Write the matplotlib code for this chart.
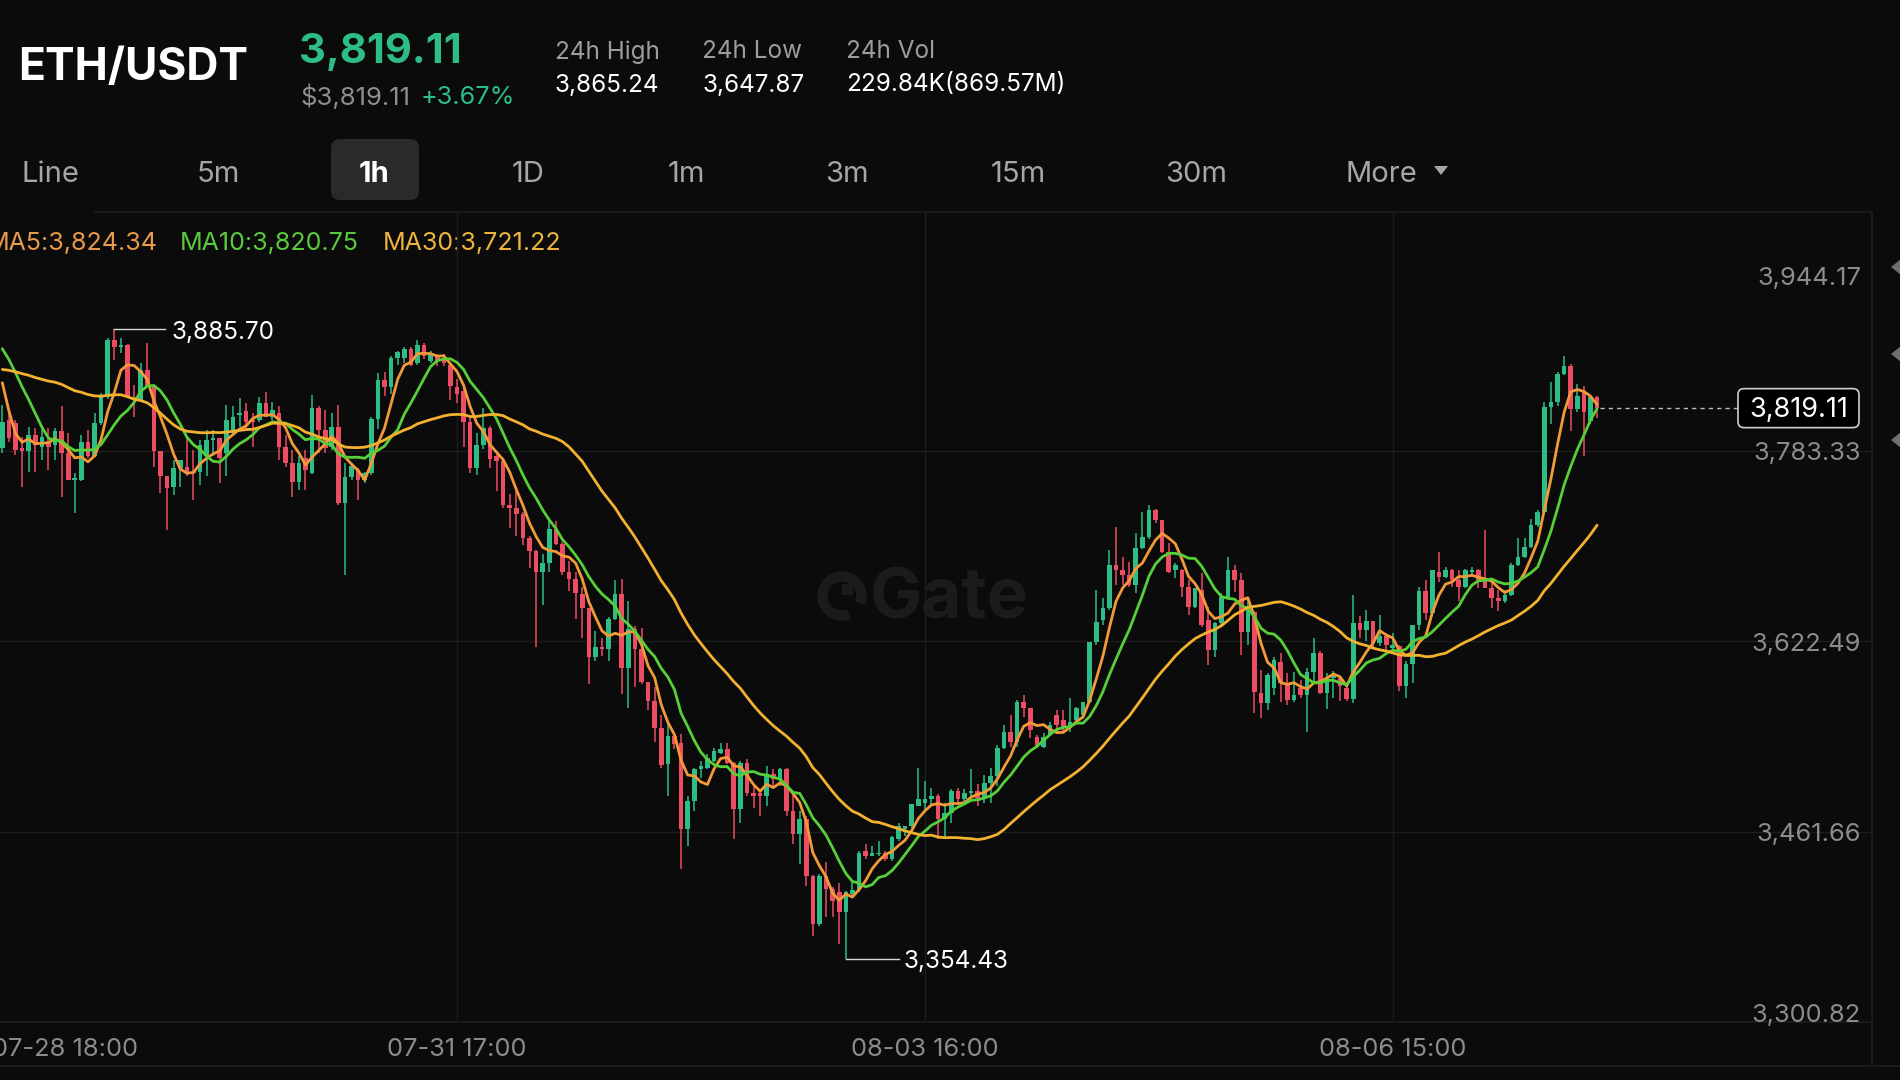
import matplotlib
matplotlib.use("Agg")
import matplotlib.pyplot as plt
import matplotlib.transforms as mtransforms
from matplotlib.patches import FancyBboxPatch, Polygon, Wedge, Rectangle
import numpy as np
import pandas as pd

plt.rcParams['font.family'] = ['Inter', 'DejaVu Sans']

# ---------------- data (hourly ETH/USDT candles) ----------------
opens = [
    3785.3, 3809.2, 3806.4, 3785.3, 3782.5, 3796.6, 3786.7, 3789.5, 3788.1, 3799.4,
    3781.1, 3758.6, 3758.6, 3790.9, 3778.3, 3806.4, 3828.9, 3876.8, 3871.1, 3872.5,
    3828.9, 3826.1, 3851.4, 3837.4, 3782.5, 3761.4, 3752.9, 3768.4, 3769.8, 3765.6,
    3765.6, 3778.3, 3792.3, 3793.7, 3781.1, 3798.0, 3813.4, 3816.3, 3809.2, 3809.2,
    3823.3, 3812.0, 3814.8, 3786.7, 3772.6, 3757.1, 3776.9, 3764.2, 3819.1, 3800.8,
    3786.7, 3803.6, 3738.9, 3761.1, 3767.0, 3758.2, 3764.1, 3810.0, 3842.6, 3836.6,
    3861.8, 3861.8, 3869.2, 3857.4, 3872.2, 3858.9, 3863.3, 3861.8, 3855.9, 3836.6,
    3833.7, 3807.0, 3768.5, 3787.8, 3802.6, 3778.9, 3774.4, 3737.4, 3734.5, 3730.0,
    3709.3, 3698.9, 3681.1, 3688.5, 3716.7, 3704.8, 3681.1, 3675.2, 3661.9, 3650.0,
    3608.6, 3617.5, 3616.0, 3641.2, 3661.9, 3599.7, 3632.3, 3616.0, 3587.8, 3571.5,
    3549.3, 3518.5, 3542.4, 3536.7, 3463.6, 3487.5, 3514.2, 3515.6, 3521.3, 3528.3,
    3531.1, 3519.9, 3480.5, 3519.9, 3494.5, 3494.5, 3491.7, 3510.0, 3505.8, 3514.2,
    3479.1, 3459.4, 3472.1, 3424.3, 3383.5, 3424.3, 3413.0, 3410.2, 3393.3, 3408.8,
    3412.0, 3445.3, 3441.1, 3442.5, 3443.9, 3438.3, 3455.2, 3463.6, 3466.4, 3483.3,
    3486.1, 3488.9, 3491.7, 3472.1, 3477.7, 3496.0, 3488.9, 3494.5, 3496.0, 3490.3,
    3503.0, 3508.6, 3531.9, 3546.0, 3537.5, 3571.3, 3565.7, 3541.7, 3533.3, 3543.1,
    3560.0, 3555.8, 3548.8, 3555.8, 3560.0, 3571.3, 3621.9, 3640.2, 3650.1, 3686.6,
    3682.4, 3678.2, 3669.8, 3700.7, 3710.6, 3733.1, 3724.6, 3697.9, 3682.4, 3682.4,
    3668.4, 3651.5, 3665.5, 3640.0, 3614.9, 3637.4, 3659.9, 3682.4, 3674.0, 3630.4,
    3647.3, 3578.3, 3569.9, 3582.5, 3605.0, 3586.8, 3572.7, 3582.5, 3576.9, 3596.6,
    3612.1, 3579.0, 3591.5, 3591.5, 3583.1, 3573.3, 3637.7, 3632.1, 3639.1, 3620.9,
    3626.5, 3616.7, 3618.1, 3584.5, 3602.7, 3636.3, 3664.3, 3646.1, 3681.1, 3676.9,
    3682.5, 3674.1, 3668.5, 3681.1, 3682.5, 3674.1, 3667.1, 3658.7, 3655.9, 3661.5,
    3686.7, 3693.7, 3702.1, 3720.3, 3731.5, 3819.7, 3823.9, 3847.7, 3854.8, 3818.3,
    3833.3, 3808.5, 3828.1,
]
highs = [
    3821.9, 3817.7, 3809.2, 3795.1, 3803.6, 3802.2, 3802.2, 3802.2, 3802.2, 3820.5,
    3798.0, 3764.2, 3796.6, 3800.8, 3814.8, 3831.7, 3878.2, 3885.7, 3878.2, 3873.0,
    3838.8, 3857.0, 3873.9, 3838.8, 3783.0, 3762.0, 3775.5, 3775.5, 3795.1, 3783.9,
    3792.3, 3800.8, 3800.8, 3794.0, 3821.9, 3820.5, 3827.5, 3823.3, 3814.8, 3828.9,
    3833.1, 3824.7, 3820.5, 3796.6, 3783.9, 3778.3, 3783.9, 3830.3, 3820.5, 3817.7,
    3814.8, 3821.9, 3773.0, 3773.0, 3768.5, 3765.6, 3811.5, 3848.5, 3850.0, 3863.3,
    3867.7, 3870.7, 3870.7, 3876.6, 3873.7, 3867.7, 3864.8, 3864.8, 3857.4, 3844.1,
    3838.1, 3811.5, 3798.1, 3818.9, 3804.1, 3783.3, 3775.9, 3746.3, 3749.3, 3731.5,
    3710.8, 3699.5, 3695.9, 3724.1, 3724.1, 3706.3, 3690.0, 3681.1, 3667.8, 3650.0,
    3630.8, 3624.9, 3642.7, 3673.7, 3675.2, 3656.0, 3635.2, 3633.7, 3588.0, 3583.4,
    3559.7, 3555.0, 3545.2, 3543.8, 3491.7, 3515.6, 3521.3, 3526.9, 3532.5, 3536.7,
    3536.7, 3520.0, 3521.3, 3522.7, 3502.0, 3497.4, 3517.1, 3514.2, 3515.6, 3515.6,
    3493.1, 3479.1, 3474.9, 3425.0, 3425.7, 3435.5, 3414.4, 3418.6, 3411.6, 3420.0,
    3445.3, 3451.0, 3449.6, 3453.8, 3445.3, 3458.0, 3469.2, 3466.4, 3485.0, 3515.6,
    3504.4, 3498.8, 3493.1, 3486.1, 3497.4, 3498.8, 3497.4, 3514.2, 3502.0, 3509.0,
    3515.6, 3535.0, 3551.6, 3560.0, 3572.7, 3576.9, 3565.7, 3543.1, 3545.0, 3554.4,
    3564.2, 3564.2, 3574.1, 3567.1, 3571.3, 3621.9, 3665.5, 3658.5, 3699.3, 3719.0,
    3693.7, 3689.5, 3713.4, 3731.7, 3737.3, 3734.0, 3725.0, 3704.9, 3688.0, 3683.0,
    3674.0, 3667.0, 3679.6, 3651.5, 3638.8, 3662.7, 3693.7, 3686.6, 3680.0, 3658.5,
    3648.0, 3598.0, 3595.2, 3609.3, 3612.1, 3595.2, 3596.6, 3589.6, 3599.4, 3624.7,
    3614.0, 3595.7, 3597.1, 3592.9, 3584.5, 3661.5, 3643.3, 3648.9, 3639.5, 3644.7,
    3629.3, 3629.3, 3619.5, 3605.5, 3636.3, 3668.5, 3674.1, 3682.5, 3697.9, 3685.3,
    3683.0, 3682.5, 3683.0, 3685.3, 3683.0, 3716.1, 3674.1, 3665.7, 3665.7, 3688.1,
    3709.1, 3709.1, 3725.9, 3732.9, 3823.9, 3840.8, 3849.2, 3863.1, 3856.2, 3839.3,
    3838.0, 3829.6, 3829.0,
]
lows = [
    3781.1, 3790.9, 3779.7, 3752.9, 3765.6, 3765.6, 3775.5, 3767.0, 3775.5, 3744.5,
    3758.6, 3730.4, 3758.0, 3776.9, 3778.0, 3805.0, 3827.0, 3859.9, 3865.5, 3827.5,
    3812.0, 3825.0, 3837.0, 3769.8, 3747.3, 3716.3, 3745.9, 3752.9, 3761.4, 3741.7,
    3754.3, 3761.4, 3778.3, 3755.7, 3761.4, 3797.0, 3803.6, 3800.8, 3786.7, 3807.8,
    3811.5, 3809.2, 3775.5, 3769.8, 3744.5, 3750.1, 3750.1, 3763.5, 3781.1, 3781.1,
    3783.9, 3737.4, 3678.2, 3758.2, 3741.9, 3756.0, 3763.0, 3801.1, 3829.2, 3830.7,
    3855.9, 3857.4, 3855.0, 3855.9, 3860.3, 3857.4, 3854.4, 3854.4, 3826.3, 3823.3,
    3786.3, 3764.1, 3762.6, 3784.8, 3768.5, 3749.3, 3734.5, 3718.2, 3710.8, 3703.3,
    3684.1, 3617.5, 3653.0, 3681.1, 3703.3, 3678.2, 3665.0, 3641.2, 3624.9, 3586.4,
    3605.6, 3610.1, 3605.6, 3640.0, 3577.5, 3565.6, 3583.4, 3586.4, 3564.1, 3537.5,
    3515.2, 3491.7, 3531.1, 3429.9, 3449.6, 3479.1, 3507.2, 3514.2, 3520.0, 3527.0,
    3518.5, 3455.2, 3469.2, 3491.7, 3481.9, 3474.9, 3483.3, 3497.4, 3500.2, 3474.9,
    3451.0, 3434.1, 3415.8, 3373.6, 3382.1, 3389.1, 3389.1, 3366.6, 3354.43, 3406.0,
    3410.2, 3438.3, 3441.1, 3441.1, 3436.9, 3436.9, 3453.8, 3458.0, 3465.0, 3483.3,
    3480.5, 3483.3, 3455.2, 3455.2, 3469.2, 3486.1, 3486.1, 3491.7, 3483.3, 3486.1,
    3486.1, 3500.0, 3531.0, 3533.3, 3533.3, 3558.6, 3540.3, 3531.9, 3531.9, 3543.1,
    3546.0, 3546.0, 3546.0, 3553.0, 3557.2, 3569.9, 3619.1, 3636.0, 3648.7, 3669.8,
    3669.8, 3668.4, 3662.7, 3700.0, 3709.0, 3721.8, 3696.5, 3679.6, 3675.4, 3660.0,
    3644.4, 3650.1, 3634.6, 3602.2, 3609.3, 3636.0, 3658.5, 3664.1, 3610.7, 3619.1,
    3561.4, 3557.2, 3564.2, 3576.9, 3571.3, 3568.5, 3571.3, 3574.1, 3546.0, 3586.8,
    3577.5, 3564.9, 3574.7, 3571.9, 3571.9, 3570.5, 3625.1, 3622.3, 3616.7, 3618.1,
    3615.3, 3615.3, 3580.3, 3574.7, 3587.3, 3632.1, 3640.5, 3644.7, 3672.7, 3675.5,
    3668.5, 3655.9, 3667.1, 3676.9, 3667.1, 3667.0, 3650.3, 3647.5, 3654.5, 3660.1,
    3686.0, 3692.3, 3700.7, 3718.9, 3730.1, 3805.7, 3821.1, 3847.0, 3800.1, 3815.5,
    3779.1, 3805.7, 3810.5,
]
closes = [
    3807.8, 3793.7, 3783.9, 3783.3, 3796.6, 3788.1, 3795.1, 3786.7, 3799.4, 3781.1,
    3758.6, 3759.8, 3790.9, 3778.3, 3806.4, 3828.9, 3876.8, 3871.1, 3872.5, 3828.9,
    3826.1, 3851.4, 3837.4, 3782.5, 3761.4, 3751.5, 3768.4, 3775.5, 3764.2, 3764.2,
    3788.1, 3792.3, 3793.7, 3776.9, 3809.2, 3812.0, 3814.8, 3807.8, 3807.8, 3823.3,
    3812.0, 3817.7, 3786.7, 3772.6, 3757.1, 3772.6, 3767.0, 3819.1, 3800.8, 3785.3,
    3803.6, 3738.8, 3761.1, 3770.0, 3758.2, 3764.1, 3810.0, 3842.6, 3836.6, 3861.8,
    3866.3, 3869.2, 3855.9, 3872.2, 3863.3, 3864.8, 3858.9, 3857.4, 3838.1, 3830.7,
    3807.0, 3768.5, 3787.8, 3802.6, 3775.9, 3774.4, 3737.4, 3734.5, 3730.0, 3709.3,
    3698.9, 3681.1, 3688.5, 3716.7, 3704.8, 3681.1, 3675.2, 3663.4, 3650.0, 3608.6,
    3617.5, 3616.0, 3641.2, 3661.9, 3599.7, 3632.3, 3616.0, 3587.8, 3571.5, 3549.3,
    3518.2, 3542.4, 3535.3, 3463.6, 3487.5, 3514.2, 3517.1, 3524.1, 3529.7, 3531.1,
    3519.9, 3480.5, 3519.9, 3494.5, 3491.7, 3491.7, 3510.0, 3505.8, 3514.2, 3479.1,
    3459.4, 3472.1, 3424.3, 3383.5, 3424.3, 3413.0, 3403.2, 3393.3, 3410.2, 3412.0,
    3443.9, 3441.1, 3443.9, 3443.9, 3438.3, 3456.6, 3466.4, 3466.4, 3484.7, 3488.9,
    3488.9, 3491.7, 3472.1, 3477.7, 3496.0, 3488.9, 3494.5, 3496.0, 3490.3, 3503.0,
    3508.6, 3531.9, 3546.0, 3537.5, 3571.3, 3565.7, 3547.4, 3533.3, 3541.7, 3551.6,
    3551.6, 3548.8, 3554.4, 3565.7, 3571.3, 3621.9, 3638.8, 3650.1, 3686.6, 3682.4,
    3678.2, 3669.8, 3700.7, 3710.6, 3733.1, 3724.6, 3697.9, 3681.0, 3686.6, 3668.4,
    3651.5, 3667.0, 3636.0, 3614.9, 3637.4, 3659.9, 3682.4, 3674.0, 3630.4, 3648.7,
    3579.7, 3569.9, 3593.8, 3606.4, 3586.8, 3572.7, 3576.9, 3576.9, 3596.6, 3612.1,
    3579.0, 3591.5, 3594.3, 3584.5, 3573.3, 3637.7, 3632.1, 3639.1, 3620.9, 3626.5,
    3619.5, 3619.5, 3584.5, 3602.7, 3636.3, 3664.3, 3646.1, 3682.5, 3676.9, 3682.5,
    3674.1, 3668.5, 3682.5, 3682.5, 3674.1, 3667.1, 3658.7, 3655.9, 3661.5, 3686.7,
    3693.7, 3702.1, 3720.3, 3731.5, 3819.7, 3823.9, 3847.7, 3854.8, 3818.3, 3829.6,
    3815.5, 3828.1, 3819.11,
]
prior_closes = [
    3815, 3822, 3830, 3838, 3845, 3840, 3832, 3828, 3835, 3842,
    3838, 3830, 3836, 3840, 3839, 3850, 3862, 3870, 3878, 3890,
    3885, 3895, 3902, 3905, 3903, 3912, 3880, 3820, 3783,
]

ma_periods = [5, 10, 30]
ma_labels = ['MA5:3,824.34', 'MA10:3,820.75', 'MA30:3,721.22']

price_ticks = [3944.17, 3783.33, 3622.49, 3461.66, 3300.82]
price_tick_labels = ['3,944.17', '3,783.33', '3,622.49', '3,461.66', '3,300.82']
time_tick_idx = [-2, 69, 140, 211]
time_tick_labels = ['07-28 18:00', '07-31 17:00', '08-03 16:00', '08-06 15:00']

symbol = 'ETH/USDT'
last_price = 3819.11
last_price_text = '3,819.11'
usd_price_text = '$3,819.11'
change_text = '+3.67%'
stat_names = ['24h High', '24h Low', '24h Vol']
stat_values = ['3,865.24', '3,647.87', '229.84K(869.57M)']
tabs = ['Line', '5m', '1h', '1D', '1m', '3m', '15m', '30m', 'More']
active_tab = '1h'

# ---------------- style ----------------
BG = '#0b0b0c'
UP = '#2ebd85'
DOWN = '#ec4d63'
GRID = '#1d1d1f'
MA_COLORS = ['#f29a38', '#56cf39', '#f2b12e']
MA_TEXT = ['#e99a4b', '#5bcb3e', '#edb53e']
GRAY = '#8c8c8c'

W, H = 1900, 1080
fig = plt.figure(figsize=(19, 10.8), dpi=100, facecolor=BG)

# pixel-space layer for the page furniture (behind the chart)
pax = fig.add_axes([0, 0, 1, 1], zorder=0)
pax.set_xlim(0, W)
pax.set_ylim(H, 0)
pax.axis('off')
pax.set_facecolor(BG)

# chart area in pixels
CL, CR, CT, CB = 0, 1872, 212, 1022
ax = fig.add_axes([CL / W, 1 - CB / H, (CR - CL) / W, (CB - CT) / H], zorder=1)
ax.patch.set_alpha(0)
ax.axis('off')

n = len(closes)
x = np.arange(n)
o = np.array(opens); c = np.array(closes); hi = np.array(highs); lo = np.array(lows)

step = 6.59
px_per_unit = 190.5 / (price_ticks[3] - price_ticks[4])
ax.set_xlim(-2.3 / step, (CR - 2.3) / step)
ax.set_ylim(price_ticks[-1], price_ticks[-1] + (CB - CT) / px_per_unit)

# grid
for p in price_ticks[1:4]:
    ax.axhline(p, color=GRID, lw=1.0, zorder=0)
for t in time_tick_idx[1:]:
    ax.axvline(t, color=GRID, lw=1.0, zorder=0)

# watermark (pixel layer)
wm_color = '#1b1b1c'
pax.add_patch(Wedge((842, 596), 24, 70, 380, width=9, color=wm_color, zorder=0))
pax.add_patch(Rectangle((842, 584), 10, 10, color=wm_color, zorder=0))
pax.text(870, 600, 'Gate', fontsize=50, weight='bold', color=wm_color,
         va='center', ha='left', zorder=0)

# candles
colors = np.where(c >= o, UP, DOWN)
ax.vlines(x, lo, hi, colors=colors, lw=1.1, zorder=2)
body_bottom = np.minimum(o, c)
body_h = np.maximum(np.abs(c - o), 0.9)
ax.bar(x, body_h, bottom=body_bottom, width=0.7, color=colors, lw=0, zorder=3)

# moving averages
allc = pd.Series(prior_closes + closes, dtype=float)
for p, col in zip(ma_periods, MA_COLORS):
    ma = allc.rolling(p).mean().values[len(prior_closes):]
    ax.plot(x, ma, color=col, lw=2.0, zorder=4, solid_capstyle='round')

# high / low markers
ih = int(np.argmax(hi)); il = int(np.argmin(lo))
ax.plot([ih, ih + 7.7], [hi[ih], hi[ih]], color='#d8d8d8', lw=1.0, zorder=5)
ax.annotate(f'{hi[ih]:,.2f}', xy=(ih + 8.6, hi[ih]), xytext=(0, -2.5), textcoords='offset points',
            color='white', fontsize=17.5, va='center', ha='left', zorder=5)
ax.plot([il, il + 8.0], [lo[il], lo[il]], color='#d8d8d8', lw=1.0, zorder=5)
ax.annotate(f'{lo[il]:,.2f}', xy=(il + 8.7, lo[il]), xytext=(0, -2.5), textcoords='offset points',
            color='white', fontsize=17.5, va='center', ha='left', zorder=5)

# last price dashed line
ax.hlines(last_price, n - 0.5, (1738 - 2.3) / step, colors='#bdbdbd', lw=1.0,
          linestyles=(0, (3, 3)), zorder=5)

# price axis labels
trans_r = mtransforms.blended_transform_factory(ax.transAxes, ax.transData)
offsets = {0: -15, 4: 10}
for k, (p, lab) in enumerate(zip(price_ticks, price_tick_labels)):
    ax.annotate(lab, xy=(1861 / CR, p), xycoords=trans_r,
                xytext=(0, (offsets.get(k, 0) - 3) * 0.72), textcoords='offset points',
                ha='right', va='center', color=GRAY, fontsize=18.3, zorder=6)

# time axis labels
trans_b = mtransforms.blended_transform_factory(ax.transData, ax.transAxes)
label_y = -(1049 - CB) / (CB - CT)
for k, (t, lab) in enumerate(zip(time_tick_idx, time_tick_labels)):
    if k == 0:
        ax.annotate(lab, xy=(0, label_y), xycoords='axes fraction', xytext=(-8 * 0.72, 0),
                    textcoords='offset points', ha='left', va='center', color=GRAY,
                    fontsize=18.3, annotation_clip=False)
    else:
        ax.text(t, label_y, lab, transform=trans_b, ha='center', va='center',
                color=GRAY, fontsize=18.3, clip_on=False)

# current-price box (pixel layer, y from the price scale)
fig.canvas.draw()
y_box = H - ax.transData.transform((0, last_price))[1]
pax.add_patch(FancyBboxPatch((1738, y_box - 19.5), 121, 39,
                             boxstyle='round,pad=0,rounding_size=6',
                             fc='#000000', ec='#cfcfcf', lw=1.2, zorder=5))
pax.text(1798.5, y_box + 2, last_price_text, color='white', fontsize=19.5,
         ha='center', va='center', zorder=6)

# frame lines
pax.plot([95, CR], [CT, CT], color='#1e1e20', lw=1.2)
pax.plot([0, CR], [CB, CB], color='#1e1e20', lw=1.2)
pax.plot([0, W], [1066, 1066], color='#1e1e20', lw=1.2)
pax.plot([CR, CR], [CT, 1066], color='#1e1e20', lw=1.2)
for ty in [267, 354, 440]:
    pax.add_patch(Polygon([(1891, ty), (1901, ty - 8), (1901, ty + 8)], closed=True,
                          color='#6e6e6e', lw=0))

# MA legend
for lab, col, lx in zip(ma_labels, MA_TEXT, [-13, 180, 383]):
    pax.text(lx, 244, lab, color=col, fontsize=18, va='center', ha='left')

# header
pax.text(18, 68, symbol, fontsize=32, weight='bold', color='white', va='center', ha='left')
pax.text(299, 52, last_price_text, fontsize=30, weight='bold', color=UP, va='center', ha='left')
pax.text(300, 97, usd_price_text, fontsize=18.5, color='#8f8f8f', va='center', ha='left')
pax.text(421, 97, change_text, fontsize=18.2, color=UP, va='center', ha='left')
for nm, val, sx in zip(stat_names, stat_values, [555, 702, 846]):
    pax.text(sx, 52, nm, fontsize=17.5, color='#9d9d9d', va='center', ha='left')
    pax.text(sx, 85, val, fontsize=17.5, color='white', va='center', ha='left')

# interval tabs
tab_x = [50, 218, 374, 528, 686, 847, 1018, 1196, 1381]
for tb, tx in zip(tabs, tab_x):
    if tb == active_tab:
        pax.add_patch(FancyBboxPatch((331, 139), 88, 61,
                                     boxstyle='round,pad=0,rounding_size=9',
                                     fc='#2a2a2c', ec='none'))
        pax.text(tx, 174, tb, fontsize=21, weight='bold', color='white', va='center', ha='center')
    else:
        pax.text(tx, 174, tb, fontsize=21, color='#a6a6a6', va='center', ha='center')
pax.add_patch(Polygon([(1434, 166), (1448, 166), (1441, 175)], closed=True, color='#a6a6a6', lw=0))

fig.savefig('out.png', dpi=100, facecolor=BG)
